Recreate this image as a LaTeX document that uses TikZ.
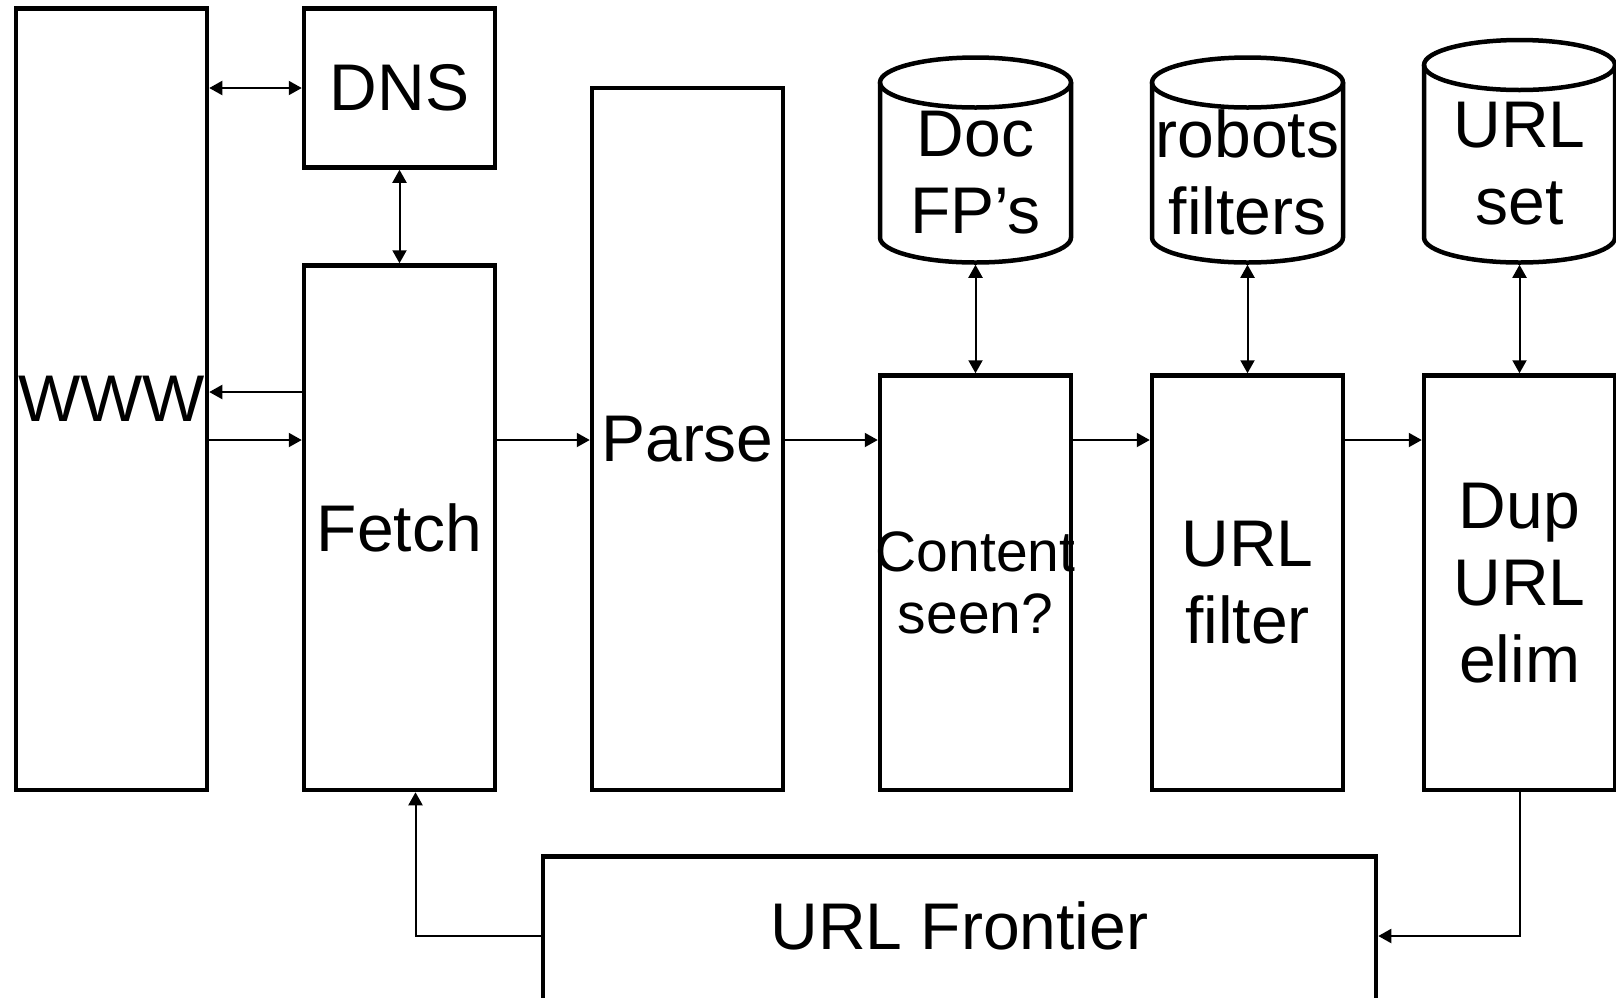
\documentclass[tikz,border=0pt]{standalone}
\usepackage{fontspec}
\setmainfont{Liberation Sans}
\usetikzlibrary{positioning, arrows.meta}
\tikzset{
	>={Triangle[length=13pt, width=14pt]},
	box/.style={draw, line width=4.5pt, minimum width=191pt, inner sep=0pt,
		align=center, font=\fontsize{66}{77}\selectfont},
	store/.style={line width=4.5pt, outer sep=0pt, minimum width=191pt,
		inner sep=0pt, align=center, font=\fontsize{66}{77}\selectfont},
	link/.style={line width=2pt}}

\begin{document}
\begin{tikzpicture}[x=1pt, y=-1pt]
	\useasboundingbox (0,0) rectangle (1616,997);

	% crawler pipeline
	\node[box, minimum height=781.5pt, anchor=north west] (www) at (13.75,6.25) {WWW};
	\node[box, minimum height=524.5pt, right=92.5pt of www.south east, anchor=south west] (fetch) {Fetch};
	\node[box, minimum height=702pt, text depth=0pt, right=92.5pt of fetch.south east, anchor=south west] (parse) {Parse};
	\node[box, minimum height=414.5pt, inner xsep=-5pt, font=\fontsize{57}{62}\selectfont, right=92.5pt of parse.south east, anchor=south west] (content) {Content\\seen?};
	\node[box, minimum height=414.5pt, right=76.5pt of content.south east, anchor=south west] (urlfilter) {URL\\filter};
	\node[box, minimum height=414.5pt, right=76.5pt of urlfilter.south east, anchor=south west] (dup) {Dup\\URL\\elim};
	\node[box, minimum height=159pt, above=93.5pt of fetch] (dns) {DNS};

	% stores
	\node[store, minimum height=180pt, above=110.75pt of content] (docfp) {Doc\\FP’s};
	\node[store, minimum height=180pt, above=110.75pt of urlfilter] (robots) {robots\\filters};
	\node[store, minimum height=197.5pt, above=110.75pt of dup] (urlset) {URL\\set};
	\foreach \s in {docfp, robots, urlset}{
		\draw[line width=4.5pt] (\s.north west) -- ([yshift=25pt]\s.south west)
			arc[start angle=180, end angle=360, x radius=95.5pt, y radius=25pt] -- (\s.north east);
		\draw[line width=4.5pt] (\s.north) ellipse[x radius=95.5pt, y radius=25pt];
	}

	\node[box, minimum width=833pt, minimum height=183.5pt, text depth=44.5pt, anchor=north west] (frontier) at (540.75,854.25) {URL Frontier};

	\coordinate (back) at (0,392);
	\coordinate (flow) at (0,440);

	\draw[link, <->] (www.east |- dns.west) -- (dns.west);
	\draw[link, <->] (dns.south) -- (fetch.north);
	\draw[link, ->] (fetch.west |- back) -- (www.east |- back);
	\draw[link, ->] (www.east |- flow) -- (fetch.west |- flow);
	\draw[link, ->] (fetch.east |- flow) -- (parse.west |- flow);
	\draw[link, ->] (parse.east |- flow) -- (content.west |- flow);
	\draw[link, ->] (content.east |- flow) -- (urlfilter.west |- flow);
	\draw[link, ->] (urlfilter.east |- flow) -- (dup.west |- flow);
	\draw[link, <->, shorten <=2.25pt] (docfp.south) -- (content.north);
	\draw[link, <->, shorten <=2.25pt] (robots.south) -- (urlfilter.north);
	\draw[link, <->, shorten <=2.25pt] (urlset.south) -- (dup.north);
	\draw[link, ->] ([yshift=12.25pt]frontier.west) -| ([xshift=16pt]fetch.south);
	\draw[link, ->] (dup.south) |- ([yshift=12.25pt]frontier.east);
\end{tikzpicture}
\end{document}
